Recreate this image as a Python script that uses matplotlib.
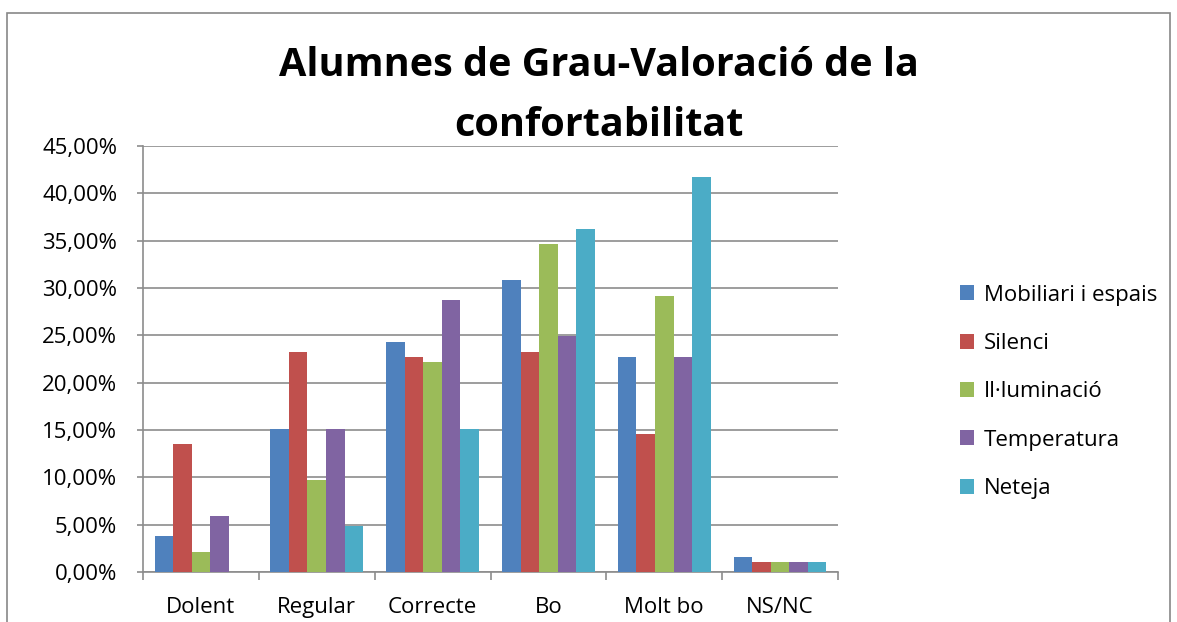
import matplotlib.pyplot as plt
import numpy as np
from matplotlib.patches import Rectangle
from matplotlib.ticker import FuncFormatter

categories = ['Dolent', 'Regular', 'Correcte', 'Bo', 'Molt bo', 'NS/NC']
series_names = ['Mobiliari i espais', 'Silenci', 'Il·luminació', 'Temperatura', 'Neteja']
mobiliari = [3.8, 15.1, 24.3, 30.8, 22.7, 1.6]
silenci = [13.5, 23.2, 22.7, 23.2, 14.6, 1.05]
illuminacio = [2.15, 9.7, 22.2, 34.6, 29.2, 1.05]
temperatura = [5.95, 15.1, 28.7, 24.9, 22.7, 1.05]
neteja = [0.0, 4.85, 15.1, 36.2, 41.7, 1.05]
colors = ['#4F81BD', '#C0504D', '#9BBB59', '#8064A2', '#4BACC6']

plt.rcParams['font.family'] = ['Open Sans', 'DejaVu Sans']

fig = plt.figure(figsize=(11.77, 6.22), dpi=100)
ax = fig.add_axes([0.1215, 0.0804, 0.5905, 0.6849])

# outer chart border
fig.patches.append(Rectangle((7 / 1177, -0.05), (1170 - 7) / 1177, (622 - 13) / 622 + 0.05,
                             transform=fig.transFigure, fill=False,
                             edgecolor='#888888', linewidth=1.2))

x = np.arange(len(categories))
width = 0.16
all_series = [mobiliari, silenci, illuminacio, temperatura, neteja]
for i, (vals, name) in enumerate(zip(all_series, series_names)):
    ax.bar(x + (i - 2) * width, vals, width, color=colors[i], label=name, zorder=3)

ax.set_xlim(-0.5, len(categories) - 0.5)
ax.set_ylim(0, 45)
ax.set_yticks(np.arange(0, 46, 5))
ax.yaxis.set_major_formatter(FuncFormatter(lambda v, p: f'{v:.2f}%'.replace('.', ',')))
ax.grid(axis='y', color='#8c8c8c', linewidth=1.2, zorder=0)

ax.set_xticks(np.arange(-0.5, len(categories), 1))
ax.set_xticklabels([])
ax.set_xticks(x, minor=True)
ax.set_xticklabels(categories, minor=True, fontsize=16)
ax.tick_params(axis='x', which='major', length=5.5, color='#8c8c8c', width=1.2)
ax.tick_params(axis='x', which='minor', length=0, pad=18)
ax.tick_params(axis='y', length=4.5, color='#8c8c8c', width=1.2, labelsize=16, pad=14)

for s in ['top', 'right']:
    ax.spines[s].set_visible(False)
for s in ['left', 'bottom']:
    ax.spines[s].set_color('#8c8c8c')
    ax.spines[s].set_linewidth(1.2)

fig.text(0.509, 0.847, 'Alumnes de Grau-Valoració de la\nconfortabilitat',
         ha='center', va='center', fontsize=28.5, fontweight='bold', linespacing=1.7)

ax.legend(loc='center left', bbox_to_anchor=(0.806, 0.37), bbox_transform=fig.transFigure,
          frameon=False, fontsize=16, handlelength=0.65, handleheight=0.65,
          labelspacing=1.23, handletextpad=0.45, borderpad=0)

fig.savefig('out.png', dpi=100)
